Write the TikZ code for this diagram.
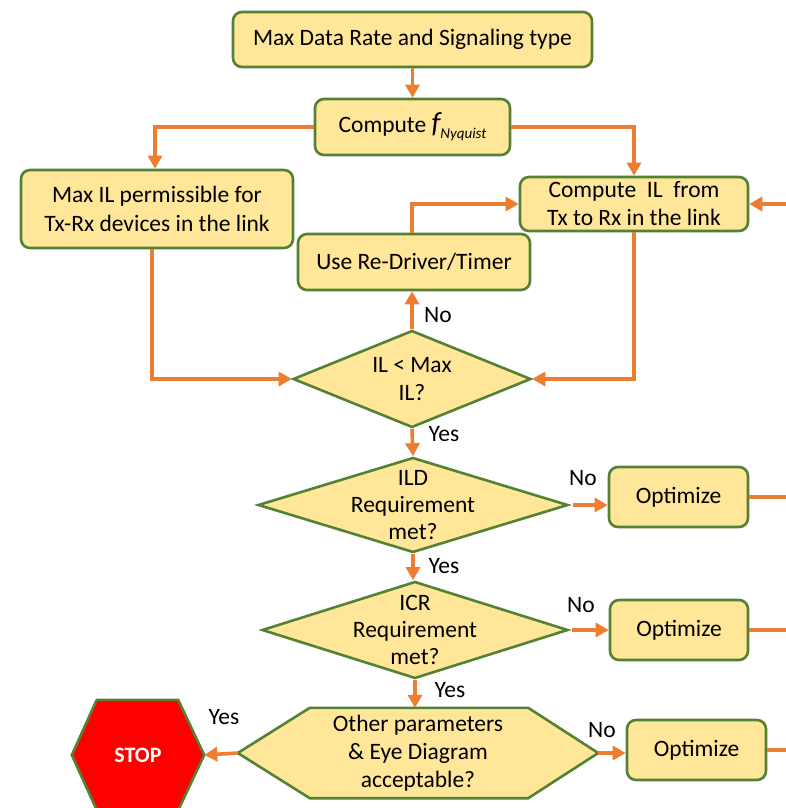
\documentclass[tikz,border=0pt]{standalone}
\usepackage{fontspec}
\setmainfont{Carlito}
\usetikzlibrary{shapes.geometric,arrows.meta,calc,backgrounds}
\definecolor{boxfill}{HTML}{FFE699}
\definecolor{boxline}{HTML}{548235}
\definecolor{arrowc}{HTML}{ED7D31}
\definecolor{stopred}{HTML}{FF0000}
\tikzset{
  boxnode/.style={draw=boxline, fill=boxfill, line width=2.6pt, rounded corners=9pt,
    align=center, inner sep=0pt, font=\fontsize{23.5}{29}\selectfont},
  dianode/.style={draw=boxline, fill=boxfill, line width=2.6pt, diamond, inner sep=0pt},
  hexframe/.style={draw=boxline, line width=2.6pt, line join=miter},
  hexnode/.style={inner sep=0pt, align=center, font=\fontsize{23.5}{28}\selectfont},
  arr/.style={draw=arrowc, line width=3.6pt, -{Triangle[length=13pt,width=14pt]}},
  plainline/.style={draw=arrowc, line width=3.6pt},
  lbl/.style={font=\fontsize{23.5}{26}\selectfont, inner sep=0pt}
}
\begin{document}
\begin{tikzpicture}[x=1pt,y=-1pt]
\useasboundingbox (0,0) rectangle (786,808);
\clip (0,0) rectangle (786,808);

% boxes
\node[boxnode, minimum width=359pt, minimum height=55pt] (b1) at (412.5,39.5) {Max Data Rate and Signaling type};
\node[boxnode, minimum width=195pt, minimum height=56pt] (b2) at (412.5,127) {Compute {\fontsize{29}{29}\selectfont\itshape f}\raisebox{-6pt}{\fontsize{15}{15}\selectfont\itshape Nyquist}};
\node[boxnode, minimum width=272pt, minimum height=78pt] (b3) at (157,209) {Max IL permissible for\\Tx-Rx devices in the link};
\node[boxnode, minimum width=228pt, minimum height=54pt, font=\fontsize{23.5}{28}\selectfont] (b4) at (634,204) {Compute~~IL~~from\\Tx to Rx in the link};
\node[boxnode, minimum width=232pt, minimum height=56pt] (b5) at (414,262) {Use Re-Driver/Timer};

% diamonds
\node[dianode, minimum width=238pt, minimum height=97pt,
  label={[align=center, font=\fontsize{23.5}{28}\selectfont]center:IL {<} Max\\IL?}] (d1) at (412,379) {};
\node[dianode, minimum width=310pt, minimum height=95pt,
  label={[align=center, font=\fontsize{23.5}{27}\selectfont]center:ILD\\Requirement\\met?}] (d2) at (413,505) {};
\node[dianode, minimum width=306pt, minimum height=97pt,
  label={[align=center, font=\fontsize{23.5}{27}\selectfont]center:ICR\\Requirement\\met?}] (d3) at (415,630) {};

% optimize boxes
\node[boxnode, minimum width=139pt, minimum height=60pt] (o1) at (678.5,497) {Optimize};
\node[boxnode, minimum width=138pt, minimum height=60pt] (o2) at (679,630) {Optimize};
\node[boxnode, minimum width=139pt, minimum height=60pt] (o3) at (696.5,750) {Optimize};

% hexagons
\node[hexnode, minimum width=360pt, minimum height=90pt] (h) at (418,753) {Other parameters\\\& Eye Diagram\\acceptable?};
\node[hexnode, minimum width=132pt, minimum height=110pt, text=white, font=\fontsize{22}{24}\selectfont\bfseries] (stop) at (138,755) {STOP};
\begin{pgfonlayer}{background}
\fill[white] (0,0) rectangle (786,808);
\filldraw[hexframe, fill=boxfill] (h.west) -- ($(h.north west)+(72,0)$) -- ($(h.north east)+(-70,0)$) -- (h.east)
  -- ($(h.south east)+(-70,0)$) -- ($(h.south west)+(72,0)$) -- cycle;
\filldraw[hexframe, fill=stopred] (stop.west) -- ($(stop.north west)+(25,0)$) -- ($(stop.north east)+(-26,0)$) -- (stop.east)
  -- ($(stop.south east)+(-26,0)$) -- ($(stop.south west)+(25,0)$) -- cycle;
\end{pgfonlayer}

% free ends at the right edge
\coordinate (e4) at (790,204);
\coordinate (e1) at (790,497);
\coordinate (e2) at (790,630);
\coordinate (e3) at (790,750);

% connectors
\draw[arr] (b1.south) -- (b2.north);
\draw[arr] (b2.west) -| ([xshift=-2pt]b3.north);
\draw[arr] (b2.east) -| (b4.north);
\draw[arr] ([xshift=-5pt]b3.south) |- (d1.west);
\draw[arr] (b4.south) |- (d1.east);
\draw[arr] (d1.north) -- (d1.north |- b5.south);
\draw[arr] (b5.north -| d1.north) |- (b4.west);
\draw[arr] (e4) -- (b4.east);
\draw[arr] (d1.south) -- (d2.north);
\draw[arr] (d2.south) -- (d2.south |- d3.north);
\draw[arr] (d3.south) -- (d3.south |- h.north);
\draw[arr] ([xshift=4pt]d2.east) -- (d2.east -| o1.west);
\draw[arr] ([xshift=3pt]d3.east) -- (o2.west);
\draw[arr] (h.west) -- (stop.east);
\draw[arr] (h.east) -- (h.east -| o3.west);
\draw[plainline] (o1.east) -- (e1);
\draw[plainline] (o2.east) -- (e2);
\draw[plainline] (o3.east) -- (e3);

% labels
\node[lbl] (n1) at (438,315) {No};
\node[lbl] (y1) at (444,434) {Yes};
\node[lbl] (n2) at (583,478) {No};
\node[lbl] (y2) at (444,566) {Yes};
\node[lbl] (n3) at (581,605) {No};
\node[lbl] (y3) at (450,690) {Yes};
\node[lbl] (y4) at (224,717) {Yes};
\node[lbl] (n4) at (602,730) {No};
\end{tikzpicture}
\end{document}
